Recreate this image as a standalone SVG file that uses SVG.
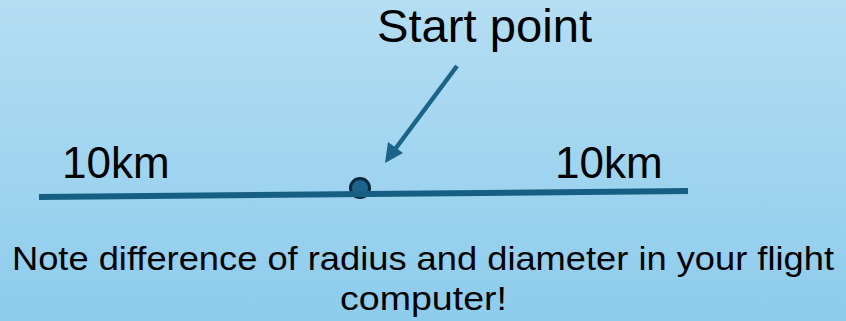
<svg xmlns="http://www.w3.org/2000/svg" width="846" height="321" viewBox="0 0 846 321">
<defs>
<linearGradient id="bg" x1="0" y1="0" x2="0" y2="1">
<stop offset="0" stop-color="#b4def2"/>
<stop offset="1" stop-color="#8dccec"/>
</linearGradient>
<style>
text{font-family:"Liberation Sans",Arial,sans-serif;fill:#000}
.lbl{font-size:44px}
.note{font-size:33px}
</style>
</defs>
<rect width="846" height="321" fill="url(#bg)"/>
<g id="start">
<circle cx="360" cy="188" r="9.5" fill="#1c6489" stroke="#0c2a3c" stroke-width="3"/>
<text x="377" y="42" font-size="46" textLength="215" lengthAdjust="spacingAndGlyphs">Start point</text>
</g>
<g id="connectors">
<line x1="39" y1="197" x2="688" y2="191" stroke="#175f82" stroke-width="6"/>
<line x1="457" y1="66" x2="393" y2="152" stroke="#1b6387" stroke-width="4.5"/>
<path d="M385,163 L388,142 L403,153 Z" fill="#1b6387"/>
</g>
<g id="left"><text class="lbl" x="62" y="178">10km</text></g>
<g id="right"><text class="lbl" x="555" y="178">10km</text></g>
<g id="note">
<text class="note" x="12" y="270" textLength="822" lengthAdjust="spacingAndGlyphs">Note difference of radius and diameter in your flight</text>
<text class="note" x="340" y="310" textLength="167" lengthAdjust="spacingAndGlyphs">computer!</text>
</g>
</svg>
